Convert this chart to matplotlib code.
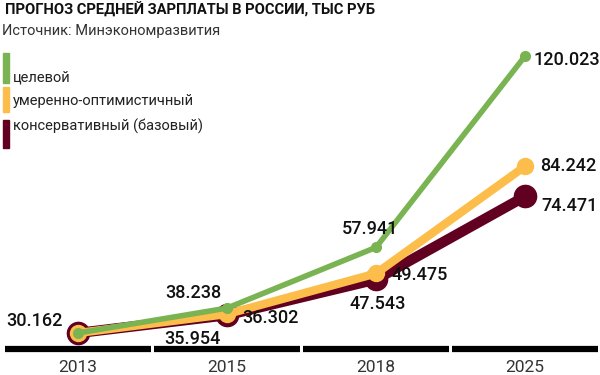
import matplotlib
import matplotlib.pyplot as plt
from matplotlib.patches import Rectangle

matplotlib.rcParams['font.family'] = ['Roboto', 'DejaVu Sans']

# Data
years = ['2013', '2015', '2018', '2025']
target = [30.162, 38.238, 57.941, 120.023]          # целевой
moderate = [30.162, 36.302, 49.475, 84.242]         # умеренно-оптимистичный
conservative = [30.162, 35.954, 47.543, 74.471]     # консервативный (базовый)
series_names = ['целевой', 'умеренно-оптимистичный', 'консервативный (базовый)']

GREEN = '#7ab351'
YELLOW = '#fdbd4a'
DARKRED = '#620021'

fig = plt.figure(figsize=(6, 3.75), dpi=100)
ax = fig.add_axes([0, 0, 1, 1])
ax.set_xlim(-0.523, 3.503)
ax.set_ylim(16.54, 138.2)
ax.axis('off')

x = list(range(len(years)))

# Lines (conservative at the bottom, target on top)
ax.plot(x, conservative, color=DARKRED, lw=7.5, marker='o', ms=16,
        solid_capstyle='round', zorder=2)
ax.plot(x, moderate, color=YELLOW, lw=6, marker='o', ms=11.5,
        solid_capstyle='round', zorder=3)
ax.plot(x, target, color=GREEN, lw=4, marker='o', ms=7,
        solid_capstyle='round', zorder=4)

# Value labels: (series values, index, dx, dy in points, ha)
lab_font = dict(fontsize=13, fontweight='medium', color='#111111', va='center')
label_specs = [
    (target, 0, -31, 9, 'center'),
    (target, 1, -24, 11, 'center'),
    (target, 2, -4, 13, 'center'),
    (target, 3, 6, -3, 'left'),
    (moderate, 1, 11, -3, 'left'),
    (moderate, 2, 11, -1, 'left'),
    (moderate, 3, 11, 0, 'left'),
    (conservative, 1, -25, -17, 'center'),
    (conservative, 2, 1, -18, 'center'),
    (conservative, 3, 12, -7, 'left'),
]
for vals, i, dx, dy, ha in label_specs:
    ax.annotate(f'{vals[i]:.3f}', (x[i], vals[i]), xytext=(dx, dy),
                textcoords='offset points', ha=ha, zorder=6, **lab_font)

# Category axis: black segments and year labels
xt = ax.get_xaxis_transform()
for i, yr in zip(x, years):
    ax.plot([i - 0.487, i + 0.487], [0.069, 0.069], color='black', lw=4.5,
            solid_capstyle='butt', transform=xt, clip_on=False)
    ax.text(i, 0.02, yr, transform=xt, ha='center', va='center',
            fontsize=12.5, color='#333333')

# Title and source
fig.text(0.008, 0.973, 'ПРОГНОЗ СРЕДНЕЙ ЗАРПЛАТЫ В РОССИИ, ТЫС РУБ',
         fontsize=10.6, fontweight='bold', color='#111111', va='center')
fig.text(0.004, 0.918, 'Источник: Минэкономразвития', fontsize=10.5,
         color='#333333', va='center')

# Legend
legend_bars = [(53, 83), (87, 112), (120, 148)]
legend_text_y = [78, 101, 126]
for (top, bottom), ty, name, c in zip(legend_bars, legend_text_y, series_names,
                                       [GREEN, YELLOW, DARKRED]):
    fig.patches.append(Rectangle((3 / 600, 1 - bottom / 375), 6 / 600,
                                 (bottom - top) / 375, color=c,
                                 transform=fig.transFigure, figure=fig))
    fig.text(13 / 600, 1 - ty / 375, name, fontsize=10.5, color='#222222',
             va='center')

fig.savefig('out.png', dpi=100)
